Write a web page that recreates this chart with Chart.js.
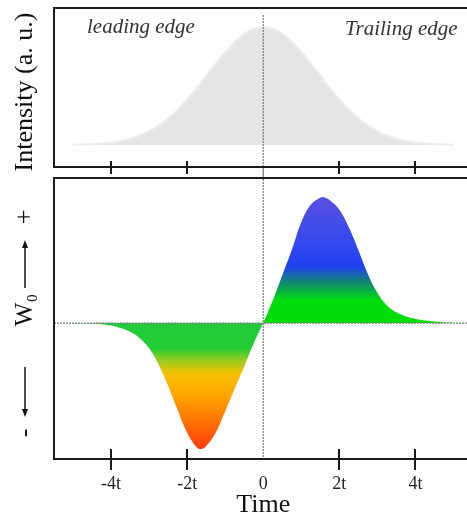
<!DOCTYPE html>
<html><head><meta charset="utf-8">
<script src="https://cdn.jsdelivr.net/npm/chart.js@4"></script>
<style>
html,body{margin:0;padding:0;background:#fff;overflow:hidden;width:467px;height:517px;}
#wrap{position:relative;width:467px;height:517px;overflow:hidden;background:#fff;}
#top{position:absolute;left:0;top:0;}
#bot{position:absolute;left:0;top:170px;}
</style></head><body>
<div id="wrap">
<canvas id="bot" width="490" height="348" style="width:490px;height:348px"></canvas>
<canvas id="top" width="490" height="176" style="width:490px;height:176px"></canvas>
</div>
<script>
// ---- data ----
const tickValues = [-4, -2, 0, 2, 4];
const tickLabels = ['-4t', '-2t', '0', '2t', '4t'];
const xTitle = 'Time';
const yTitleTop = 'Intensity (a. u.)';
const edgeLabels = ['leading edge', 'Trailing edge'];
const yTitleBottom = ['-', 'W\u2080', '+'];

const intensityTimes = [-5,-4.75,-4.5,-4.25,-4,-3.75,-3.5,-3.25,-3,-2.75,-2.5,-2.25,-2,-1.75,-1.5,-1.25,-1,-0.75,-0.5,-0.25,0,
  0.25,0.5,0.75,1,1.25,1.5,1.75,2,2.25,2.5,2.75,3,3.25,3.5,3.75,4,4.25,4.5,4.75,5];
const intensity = [0.003,0.005,0.008,0.013,0.022,0.035,0.054,0.081,0.118,0.166,0.226,0.30,0.387,0.483,0.586,0.69,0.788,0.875,0.943,0.985,1.0,
  0.985,0.943,0.875,0.788,0.69,0.586,0.483,0.387,0.30,0.226,0.166,0.118,0.081,0.054,0.035,0.022,0.013,0.008,0.005,0.003];

const w0Times = [-5,-4.75,-4.5,-4.25,-4,-3.75,-3.5,-3.25,-3,-2.75,-2.5,-2.25,-2,-1.75,-1.625,-1.5,-1.25,-1,-0.75,-0.5,-0.25,0,
  0.25,0.5,0.75,1,1.25,1.5,1.575,1.75,2,2.25,2.5,2.75,3,3.25,3.5,3.75,4,4.25,4.5,4.75,5];
const w0Values = [-0.001,-0.002,-0.004,-0.009,-0.02,-0.04,-0.07,-0.12,-0.20,-0.33,-0.50,-0.69,-0.87,-0.985,-1.0,-0.975,-0.87,-0.70,-0.52,-0.345,-0.16,0,
  0.18,0.38,0.58,0.80,0.94,0.995,1.0,0.975,0.90,0.76,0.58,0.39,0.24,0.14,0.085,0.052,0.033,0.021,0.013,0.007,0.003];

// ---- helpers ----
const SERIF = '"Liberation Serif", "DejaVu Serif", serif';
function drawFrameAndTicks(chart, up, down) {
  const {ctx, chartArea: {left, top, bottom}, scales: {x}} = chart;
  ctx.save();
  ctx.strokeStyle = '#1a1a1a';
  ctx.lineWidth = 2;
  ctx.beginPath();
  ctx.moveTo(left, bottom); ctx.lineTo(left, top); ctx.lineTo(chart.width, top);
  ctx.moveTo(left - 1, bottom); ctx.lineTo(chart.width, bottom);
  ctx.stroke();
  tickValues.forEach(v => {
    if (v === 0) return;
    const px = Math.round(x.getPixelForValue(v));
    ctx.beginPath(); ctx.moveTo(px, bottom - up); ctx.lineTo(px, bottom + down); ctx.stroke();
  });
  ctx.restore();
}
function dotted(ctx, x1, y1, x2, y2) {
  ctx.save();
  ctx.strokeStyle = '#7a7a7a'; ctx.lineWidth = 1.2; ctx.setLineDash([2, 1]);
  ctx.beginPath(); ctx.moveTo(x1, y1); ctx.lineTo(x2, y2); ctx.stroke();
  ctx.restore();
}
function rotText(ctx, txt, x, y, font) {
  ctx.save();
  ctx.translate(x, y); ctx.rotate(-Math.PI / 2);
  ctx.font = font; ctx.fillStyle = '#111'; ctx.textAlign = 'center'; ctx.textBaseline = 'middle';
  ctx.fillText(txt, 0, 0);
  ctx.restore();
}
function arrow(ctx, x, yFrom, yTo) {
  ctx.save();
  ctx.strokeStyle = '#111'; ctx.fillStyle = '#111'; ctx.lineWidth = 1.5;
  const dir = yTo < yFrom ? -1 : 1;
  ctx.beginPath(); ctx.moveTo(x, yFrom); ctx.lineTo(x, yTo - dir * 5); ctx.stroke();
  ctx.beginPath(); ctx.moveTo(x, yTo); ctx.lineTo(x - 3, yTo - dir * 8); ctx.lineTo(x + 3, yTo - dir * 8); ctx.closePath(); ctx.fill();
  ctx.restore();
}

const xScaleBase = {
  type: 'linear', min: -5.5, max: 5.5,
  afterBuildTicks: s => { s.ticks = tickValues.map(v => ({value: v})); }
};

// ---- top chart ----
new Chart(document.getElementById('top'), {
  type: 'line',
  data: {
    datasets: [{
      data: intensityTimes.map((t, i) => ({x: t, y: intensity[i]})),
      fill: 'origin', backgroundColor: '#e5e5e5', borderColor: '#ededed', borderWidth: 2,
      pointRadius: 0, tension: 0.4
    }]
  },
  options: {
    responsive: false, animation: false, devicePixelRatio: 1,
    layout: {padding: {left: 54, right: 17.5, top: 8, bottom: 9}},
    plugins: {legend: {display: false}, tooltip: {enabled: false}},
    scales: {
      x: Object.assign({display: false}, xScaleBase),
      y: {display: false, min: -0.186, max: 1.16}
    }
  },
  plugins: [{
    id: 'topDeco',
    afterDatasetsDraw(chart) {
      const {ctx, scales: {x}} = chart;
      const x0 = x.getPixelForValue(0);
      dotted(ctx, x0, 15, x0, 176);
      drawFrameAndTicks(chart, 6, 7);
      ctx.save();
      ctx.font = 'italic 21px ' + SERIF; ctx.fillStyle = '#333'; ctx.textBaseline = 'alphabetic';
      ctx.textAlign = 'left'; ctx.fillText(edgeLabels[0], 87, 33);
      ctx.fillText(edgeLabels[1], 345, 35);
      ctx.restore();
      rotText(ctx, yTitleTop, 25, 92, '26px ' + SERIF);
    }
  }]
});

// ---- bottom chart ----
function w0Gradient(c) {
  const chart = c.chart;
  const {chartArea, scales} = chart;
  if (!chartArea || !scales.y) return '#22cc33';
  const yTop = scales.y.getPixelForValue(1), yBot = scales.y.getPixelForValue(-1);
  const g = chart.ctx.createLinearGradient(0, yTop, 0, yBot);
  g.addColorStop(0.0, '#5a50e0');
  g.addColorStop(0.2, '#3048f0');
  g.addColorStop(0.275, '#2040f0');
  g.addColorStop(0.34, '#108a70');
  g.addColorStop(0.41, '#00dd10');
  g.addColorStop(0.5, '#00dd00');
  g.addColorStop(0.5, '#22cc3a');
  g.addColorStop(0.6, '#22cc33');
  g.addColorStop(0.65, '#9ccc20');
  g.addColorStop(0.7, '#f5c000');
  g.addColorStop(0.775, '#ffaa00');
  g.addColorStop(0.875, '#ff7a00');
  g.addColorStop(1.0, '#ff3a10');
  return g;
}

new Chart(document.getElementById('bot'), {
  type: 'line',
  data: {
    datasets: [{
      data: w0Times.map((t, i) => ({x: t, y: w0Values[i]})),
      fill: 'origin', backgroundColor: w0Gradient, borderWidth: 0, borderColor: 'rgba(0,0,0,0)',
      pointRadius: 0, tension: 0.4
    }]
  },
  options: {
    responsive: false, animation: false, devicePixelRatio: 1,
    layout: {padding: {left: 54, right: 17.5, top: 8, bottom: 0}},
    plugins: {legend: {display: false}, tooltip: {enabled: false}},
    scales: {
      x: Object.assign({
        display: true,
        grid: {display: false, drawTicks: false},
        border: {display: false},
        ticks: {
          autoSkip: false, maxRotation: 0, padding: 14, color: '#222',
          font: {family: SERIF, size: 18},
          callback: (v) => { const i = tickValues.indexOf(v); return i >= 0 ? tickLabels[i] : ''; }
        },
        title: {display: true, text: xTitle, color: '#111', font: {family: SERIF, size: 26, lineHeight: 1}, padding: {top: 0, bottom: 0}},
        afterFit: s => { s.height = 59; }
      }, xScaleBase),
      y: {display: false, min: -1.079, max: 1.151}
    }
  },
  plugins: [{
    id: 'botDeco',
    afterDatasetsDraw(chart) {
      const {ctx, scales: {x, y}, chartArea} = chart;
      const x0 = x.getPixelForValue(0), y0 = y.getPixelForValue(0);
      dotted(ctx, x0, 0, x0, chartArea.bottom);
      dotted(ctx, chartArea.left, y0, chart.width, y0);
      drawFrameAndTicks(chart, 10, 11);
      rotText(ctx, yTitleBottom[2], 25, 47, '26px ' + SERIF);
      arrow(ctx, 25, 118, 70);
      rotText(ctx, yTitleBottom[1], 25, 140, '25px ' + SERIF);
      arrow(ctx, 25, 197, 247);
      rotText(ctx, yTitleBottom[0], 25, 263, '26px ' + SERIF);
    }
  }]
});
</script>
</body></html>
